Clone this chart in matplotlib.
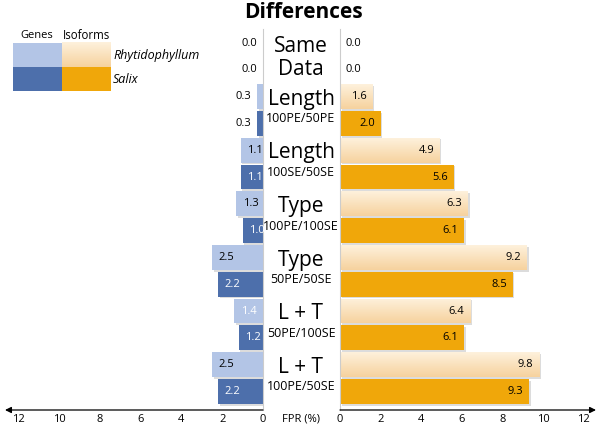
import numpy as np
import matplotlib
matplotlib.use("Agg")
import matplotlib.pyplot as plt
import matplotlib.transforms as mtransforms
import matplotlib.patheffects as pe
from matplotlib.colors import LinearSegmentedColormap

plt.rcParams['font.family'] = ['Open Sans', 'DejaVu Sans']

# ---- data ----
group_main = ["Same", "Length", "Length", "Type", "Type", "L + T", "L + T"]
group_sub = ["Data", "100PE/50PE", "100SE/50SE", "100PE/100SE", "50PE/50SE", "50PE/100SE", "100PE/50SE"]
genes_rhyt = [0.0, 0.3, 1.1, 1.3, 2.5, 1.4, 2.5]
genes_salix = [0.0, 0.3, 1.1, 1.0, 2.2, 1.2, 2.2]
iso_rhyt = [0.0, 1.6, 4.9, 6.3, 9.2, 6.4, 9.8]
iso_salix = [0.0, 2.0, 5.6, 6.1, 8.5, 6.1, 9.3]
ticks = [0, 2, 4, 6, 8, 10, 12]

# ---- style ----
C_LBLUE = "#b3c5e6"
C_DBLUE = "#4d6fab"
C_ORANGE = "#f0a70a"
C_LORANGE_TOP = "#fef1dc"
C_LORANGE_BOT = "#f6d29e"

W, H = 600, 428
fig = plt.figure(figsize=(6, 4.28), dpi=100)

def fx(px):
    return px / W

top_px, bot_px = 29, 410
ax_b = (H - bot_px) / H
ax_h = (bot_px - top_px) / H
axL = fig.add_axes([fx(5), ax_b, fx(263 - 5), ax_h])
axR = fig.add_axes([fx(340), ax_b, fx(596 - 340), ax_h], sharey=axL)

row_px = 26.8
y0 = -(43 - top_px) / row_px
y1 = (bot_px - 43) / row_px

n = len(group_main)
y_rhyt = np.arange(n) * 2
y_salix = np.arange(n) * 2 + 1
bh = 0.93

shadow = [pe.SimplePatchShadow(offset=(1.2, -1.2), alpha=0.25, shadow_rgbFace="#777777"), pe.Normal()]

# left: genes
bl1 = axL.barh(y_rhyt, genes_rhyt, height=bh, color=C_LBLUE, path_effects=shadow)
bl2 = axL.barh(y_salix, genes_salix, height=bh, color=C_DBLUE, path_effects=shadow)
# right: isoforms
br1 = axR.barh(y_rhyt, iso_rhyt, height=bh, color=C_LORANGE_BOT, path_effects=shadow)
br2 = axR.barh(y_salix, iso_salix, height=bh, color=C_ORANGE, path_effects=shadow)

# gradient for light orange bars
cmap = LinearSegmentedColormap.from_list("lo", [C_LORANGE_TOP, C_LORANGE_BOT])
grad = np.linspace(0, 1, 64).reshape(-1, 1)
for b in br1:
    if b.get_width() <= 0:
        continue
    x0, yb = b.get_x(), b.get_y()
    im = axR.imshow(grad, cmap=cmap, aspect='auto', interpolation='bilinear',
                    extent=[x0, x0 + b.get_width(), yb + b.get_height(), yb], zorder=2.5)
    im.set_clip_path(b)

axL.set_xlim(12.65, 0)
axR.set_xlim(0, 12.6)
axL.set_ylim(y1, y0)

for ax in (axL, axR):
    for s in ax.spines.values():
        s.set_visible(False)
    ax.set_yticks([])
    ax.set_xticks(ticks)
    ax.set_xticklabels([str(t) for t in ticks], fontsize=8)
    ax.tick_params(axis='x', length=0, pad=3)
    ax.set_facecolor('none')

axL.spines['right'].set_visible(True)
axL.spines['right'].set_color('#cccccc')
axL.spines['right'].set_linewidth(0.8)
axR.spines['left'].set_visible(True)
axR.spines['left'].set_color('#cccccc')
axR.spines['left'].set_linewidth(0.8)

# arrows for x axes
axL.annotate('', xy=(12.65, y1), xytext=(0, y1),
             arrowprops=dict(arrowstyle='-|>', color='black', lw=0.9, mutation_scale=9, shrinkA=0, shrinkB=0),
             annotation_clip=False)
axR.annotate('', xy=(12.6, y1), xytext=(0, y1),
             arrowprops=dict(arrowstyle='-|>', color='black', lw=0.9, mutation_scale=9, shrinkA=0, shrinkB=0),
             annotation_clip=False)

# value labels
vfs = 8
for i in range(n):
    for y, v, col in ((y_rhyt[i], genes_rhyt[i], 'rhyt'), (y_salix[i], genes_salix[i], 'salix')):
        if v < 0.6:
            axL.annotate(f"{v:.1f}", xy=(v, y), xytext=(-4, 0), textcoords='offset points',
                         ha='right', va='center', fontsize=vfs, color='black')
        else:
            if col == 'salix':
                tc = 'white'
            else:
                tc = 'white' if i == 5 else 'black'
            axL.annotate(f"{v:.1f}", xy=(v, y), xytext=(4.5, 0), textcoords='offset points',
                         ha='left', va='center', fontsize=vfs, color=tc)
    for y, v in ((y_rhyt[i], iso_rhyt[i]), (y_salix[i], iso_salix[i])):
        if v < 0.6:
            axR.annotate(f"{v:.1f}", xy=(v, y), xytext=(4, 0), textcoords='offset points',
                         ha='left', va='center', fontsize=vfs, color='black')
        else:
            axR.annotate(f"{v:.1f}", xy=(v, y), xytext=(-4, 0), textcoords='offset points',
                         ha='right', va='center', fontsize=vfs, color='black', zorder=5)

# center labels
tr = mtransforms.blended_transform_factory(fig.transFigure, axR.transData)
cx = fx(301)
for i in range(n):
    gc = 2 * i + 0.5
    if i == 0:
        fig.text(cx, 0.14, group_main[i], transform=tr, ha='center', va='center', fontsize=15)
        fig.text(cx, 0.98, group_sub[i], transform=tr, ha='center', va='center', fontsize=15)
    else:
        fig.text(cx, gc - 0.40, group_main[i], transform=tr, ha='center', va='center', fontsize=15)
        fig.text(cx, gc + 0.33, group_sub[i], transform=tr, ha='center', va='center', fontsize=9)

# title
fig.text(fx(303), 1 - 12 / H, "Differences", ha='center', va='center', fontsize=15, fontweight='bold')

# FPR label
fig.text(fx(301), 1 - 419 / H, "FPR (%)", ha='center', va='center', fontsize=8)

# legend
lax = fig.add_axes([0, 0, 1, 1], facecolor='none')
lax.set_xlim(0, W)
lax.set_ylim(H, 0)
lax.axis('off')
lax.add_patch(plt.Rectangle((13, 42.5), 49, 24.3, color=C_LBLUE, lw=0))
lax.add_patch(plt.Rectangle((13, 66.8), 49, 24.3, color=C_DBLUE, lw=0))
lax.imshow(grad, cmap=cmap, aspect='auto', extent=[62, 110.5, 66.8, 42.5], interpolation='bilinear')
lax.add_patch(plt.Rectangle((62, 66.8), 48.5, 24.3, color=C_ORANGE, lw=0))
lax.set_xlim(0, W)
lax.set_ylim(H, 0)
lax.text(37, 35, "Genes", ha='center', va='center', fontsize=8)
lax.text(87, 35, "Isoforms", ha='center', va='center', fontsize=8.3)
lax.text(113, 55, "Rhytidophyllum", ha='left', va='center', fontsize=9, style='italic')
lax.text(113, 79, "Salix", ha='left', va='center', fontsize=9, style='italic')

fig.savefig("out.png", dpi=100)
